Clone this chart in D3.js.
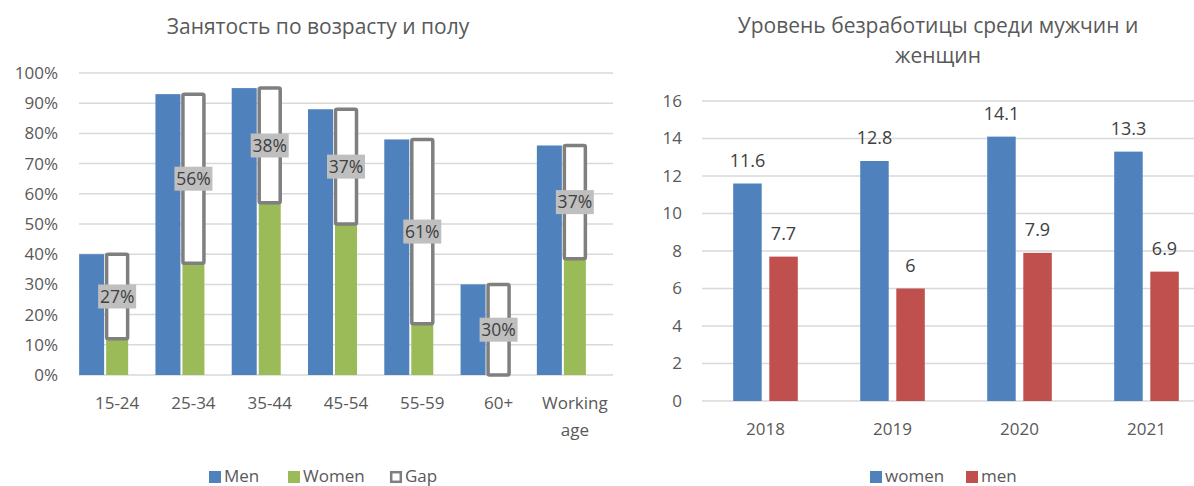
<!DOCTYPE html>
<html>
<head>
  <meta charset="utf-8">
  <title>Занятость и безработица</title>
  <script src="https://cdn.jsdelivr.net/npm/d3@7"></script>
  <style>
    body { margin: 0; background: #fff; }
    text { font-family: "Open Sans", "Noto Sans", sans-serif; fill: #595959; }
  </style>
</head>
<body>
<script>
// левый график: занятость по возрасту и полу
var ageGroups = ["15-24", "25-34", "35-44", "45-54", "55-59", "60+", "Working age"];
var menRate   = [0.40, 0.93, 0.95, 0.88, 0.78, 0.30, 0.76];
var womenRate = [0.12, 0.37, 0.57, 0.50, 0.17, 0.00, 0.385];
var gapLabels = ["27%", "56%", "38%", "37%", "61%", "30%", "37%"];
var pctTicks  = [0, 0.1, 0.2, 0.3, 0.4, 0.5, 0.6, 0.7, 0.8, 0.9, 1.0];

// правый график: безработица
var years       = ["2018", "2019", "2020", "2021"];
var womenUnempl = [11.6, 12.8, 14.1, 13.3];
var menUnempl   = [7.7, 6, 7.9, 6.9];
var unemplTicks = [0, 2, 4, 6, 8, 10, 12, 14, 16];

var blue = "#4f81bd", green = "#9bbb59", red = "#c0504d", grid = "#d9d9d9";

var svg = d3.select("body").append("svg")
  .attr("width", 1194).attr("height", 486);

// ---------- левый ----------
var x1 = d3.scaleBand().domain(ageGroups).range([79, 613]);
var y1 = d3.scaleLinear().domain([0, 1]).range([375, 73]);
var g1 = svg.append("g");

g1.append("text").attr("x", 318).attr("y", 27).attr("dy", "0.35em")
  .attr("text-anchor", "middle").style("font-size", "21px")
  .text("Занятость по возрасту и полу");

g1.selectAll(".grid").data(pctTicks).enter().append("line")
  .attr("x1", 79).attr("x2", 613)
  .attr("y1", function(d) { return y1(d); }).attr("y2", function(d) { return y1(d); })
  .attr("stroke", grid).attr("stroke-width", 1.5);

var ax1 = g1.append("g").attr("transform", "translate(79,0)")
  .call(d3.axisLeft(y1).tickValues(pctTicks).tickFormat(d3.format(".0%")).tickSize(0).tickPadding(21));
ax1.select(".domain").remove();
ax1.selectAll("text").style("font-size", "17px").attr("fill", "#595959")
  .style("font-family", "'Open Sans', sans-serif");

var cx1 = function(i) { return x1(ageGroups[i]) + x1.bandwidth() / 2; };

g1.selectAll(".men").data(menRate).enter().append("rect")
  .attr("x", function(d, i) { return cx1(i) - 38; })
  .attr("width", 25)
  .attr("y", function(d) { return y1(d); })
  .attr("height", function(d) { return y1(0) - y1(d); })
  .attr("fill", blue);

g1.selectAll(".women").data(womenRate).enter().append("rect")
  .attr("x", function(d, i) { return cx1(i) - 11; })
  .attr("width", 22)
  .attr("y", function(d) { return y1(d); })
  .attr("height", function(d) { return y1(0) - y1(d); })
  .attr("fill", green);

// рамка разрыва от женщин до мужчин
g1.selectAll(".gap").data(menRate).enter().append("rect")
  .attr("x", function(d, i) { return cx1(i) - 10.5; })
  .attr("width", 21)
  .attr("y", function(d) { return y1(d); })
  .attr("height", function(d, i) { return y1(womenRate[i]) - y1(d); })
  .attr("fill", "#fff").attr("stroke", "#7f7f7f").attr("stroke-width", 3.5)
  .attr("rx", 1.5);

var lab = g1.selectAll(".glab").data(gapLabels).enter().append("g")
  .attr("transform", function(d, i) {
    return "translate(" + cx1(i) + "," + y1((menRate[i] + womenRate[i]) / 2) + ")";
  });
lab.append("rect").attr("x", -19).attr("y", -12).attr("width", 38).attr("height", 24)
  .attr("fill", "#bfbfbf");
lab.append("text").attr("text-anchor", "middle").attr("dy", "0.36em")
  .style("font-size", "17.5px").style("fill", "#404040")
  .text(function(d) { return d; });

g1.selectAll(".xl").data(ageGroups).enter().append("text")
  .attr("x", function(d, i) { return cx1(i); })
  .attr("y", 403).attr("text-anchor", "middle")
  .style("font-size", "17px")
  .each(function(d) {
    var parts = d.split(" ");
    var t = d3.select(this);
    parts.forEach(function(p, k) {
      t.append("tspan").attr("x", t.attr("x")).attr("dy", k == 0 ? "0.35em" : "1.6em").text(p);
    });
  });

var leg1 = [["Men", blue, "fill"], ["Women", green, "fill"], ["Gap", "#7f7f7f", "box"]];
var legX1 = [209, 288, 390];
leg1.forEach(function(l, i) {
  if (l[2] == "fill") {
    g1.append("rect").attr("x", legX1[i]).attr("y", 471).attr("width", 12).attr("height", 12).attr("fill", l[1]);
  } else {
    g1.append("rect").attr("x", legX1[i] + 1.2).attr("y", 472.2).attr("width", 9.6).attr("height", 9.6)
      .attr("fill", "#fff").attr("stroke", l[1]).attr("stroke-width", 2.5);
  }
  g1.append("text").attr("x", legX1[i] + 15).attr("y", 476).attr("dy", "0.35em")
    .style("font-size", "17px").text(l[0]);
});

// ---------- правый ----------
var x2 = d3.scaleBand().domain(years).range([702, 1210]);
var y2 = d3.scaleLinear().domain([0, 16]).range([401, 101]);
var g2 = svg.append("g");

g2.append("text").attr("x", 938).attr("y", 26).attr("dy", "0.35em")
  .attr("text-anchor", "middle").style("font-size", "21px")
  .text("Уровень безработицы среди мужчин и");
g2.append("text").attr("x", 938).attr("y", 56).attr("dy", "0.35em")
  .attr("text-anchor", "middle").style("font-size", "21px")
  .text("женщин");

g2.selectAll(".grid").data(unemplTicks).enter().append("line")
  .attr("x1", 702).attr("x2", 1194)
  .attr("y1", function(d) { return y2(d); }).attr("y2", function(d) { return y2(d); })
  .attr("stroke", grid).attr("stroke-width", 1.5);

var ax2 = g2.append("g").attr("transform", "translate(702,0)")
  .call(d3.axisLeft(y2).tickValues(unemplTicks).tickSize(0).tickPadding(20));
ax2.select(".domain").remove();
ax2.selectAll("text").style("font-size", "17px").attr("fill", "#595959")
  .style("font-family", "'Open Sans', sans-serif");

var cx2 = function(i) { return x2(years[i]) + x2.bandwidth() / 2; };

g2.selectAll(".w").data(womenUnempl).enter().append("rect")
  .attr("x", function(d, i) { return cx2(i) - 32.3; })
  .attr("width", 28.5)
  .attr("y", function(d) { return y2(d); })
  .attr("height", function(d) { return y2(0) - y2(d); })
  .attr("fill", blue);
g2.selectAll(".m").data(menUnempl).enter().append("rect")
  .attr("x", function(d, i) { return cx2(i) + 3.8; })
  .attr("width", 28.5)
  .attr("y", function(d) { return y2(d); })
  .attr("height", function(d) { return y2(0) - y2(d); })
  .attr("fill", red);

g2.selectAll(".wl").data(womenUnempl).enter().append("text")
  .attr("x", function(d, i) { return cx2(i) - 18; })
  .attr("y", function(d) { return y2(d) - 23; }).attr("dy", "0.35em")
  .attr("text-anchor", "middle").style("font-size", "18px").style("fill", "#404040")
  .text(function(d) { return d; });
g2.selectAll(".ml").data(menUnempl).enter().append("text")
  .attr("x", function(d, i) { return cx2(i) + 18; })
  .attr("y", function(d) { return y2(d) - 23; }).attr("dy", "0.35em")
  .attr("text-anchor", "middle").style("font-size", "18px").style("fill", "#404040")
  .text(function(d) { return d; });

g2.selectAll(".xl").data(years).enter().append("text")
  .attr("x", function(d, i) { return cx2(i); })
  .attr("y", 429).attr("dy", "0.35em").attr("text-anchor", "middle")
  .style("font-size", "17px").text(function(d) { return d; });

var leg2 = [["women", blue], ["men", red]];
var legX2 = [870, 966];
leg2.forEach(function(l, i) {
  g2.append("rect").attr("x", legX2[i]).attr("y", 471).attr("width", 12).attr("height", 12).attr("fill", l[1]);
  g2.append("text").attr("x", legX2[i] + 15).attr("y", 476).attr("dy", "0.35em")
    .style("font-size", "17px").text(l[0]);
});
</script>
</body>
</html>
